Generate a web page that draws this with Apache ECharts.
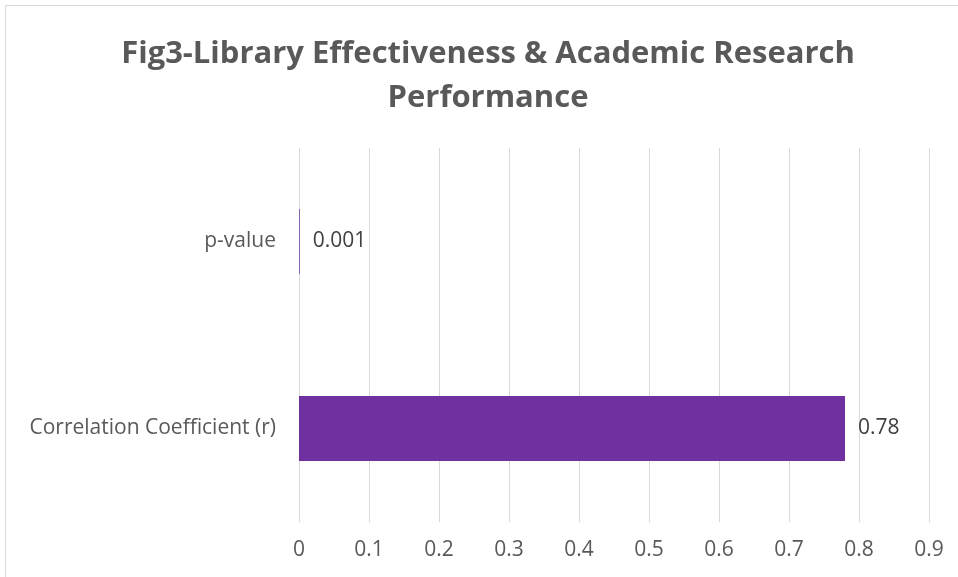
<!DOCTYPE html>
<html><head><meta charset="utf-8">
<script src="https://cdn.jsdelivr.net/npm/echarts@6/dist/echarts.min.js"></script>
<style>html,body{margin:0;padding:0;background:#fff}#c{width:958px;height:577px}</style>
</head><body><div id="c"></div>
<script>
const titleText = 'Fig3-Library Effectiveness & Academic Research\nPerformance';
const categories = ['Correlation Coefficient (r)', 'p-value'];
const values = [0.78, 0.001];
const labels = ['0.78', '0.001'];
const chart = echarts.init(document.getElementById('c'));
const font = '"Open Sans", "Noto Sans", sans-serif';
chart.setOption({
  animation: false,
  graphic: [
    { type: 'rect', shape: { x: 5.5, y: 5.5, width: 1000, height: 1000 }, style: { fill: 'none', stroke: '#d9d9d9', lineWidth: 1 }, silent: true },
    { type: 'text', x: 488, y: 32, silent: true,
      style: { text: titleText, textAlign: 'center', textVerticalAlign: 'top', fill: '#595959',
        fontFamily: font, fontSize: 31, fontWeight: 'bold', lineHeight: 44 } }
  ],
  grid: { left: 299, right: 29, top: 148, bottom: 55 },
  xAxis: {
    type: 'value', min: 0, max: 0.9, interval: 0.1,
    axisLine: { show: false }, axisTick: { show: false },
    splitLine: { lineStyle: { color: '#d9d9d9', width: 1 } },
    axisLabel: { fontFamily: font, fontSize: 21, color: '#595959', margin: 18,
      formatter: v => String(Math.round(v * 10) / 10) }
  },
  yAxis: {
    type: 'category', data: categories,
    axisLine: { show: false }, axisTick: { show: false },
    axisLabel: { fontFamily: font, fontSize: 21, color: '#595959', margin: 23 }
  },
  series: [{
    type: 'bar', data: values, barWidth: 65,
    itemStyle: { color: '#7030a0' },
    label: { show: true, position: 'right', distance: 13, fontFamily: font, fontSize: 21, color: '#404040',
      formatter: p => labels[p.dataIndex] }
  }]
});
</script></body></html>
